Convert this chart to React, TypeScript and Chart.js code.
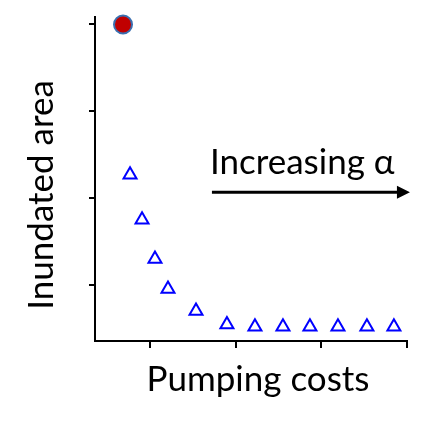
import React, { useEffect, useRef } from "react";
import { Chart, registerables } from "chart.js";

Chart.register(...registerables);

// Data (axis units: tick spacing = 1)
const X_TICKS = [1, 2, 3, 4];
const Y_TICKS = [1, 2, 3, 4];
const BASELINE_X = [0.685];
const BASELINE_Y = [4.0];
const ALPHA_X = [0.767, 0.907, 1.058, 1.21, 1.537, 1.898, 2.225, 2.552, 2.867, 3.194, 3.532, 3.847];
const ALPHA_Y = [2.27, 1.75, 1.3, 0.955, 0.7, 0.545, 0.52, 0.52, 0.52, 0.52, 0.52, 0.52];
const X_TITLE = "Pumping costs";
const Y_TITLE = "Inundated area";
const ARROW_LABEL = "Increasing α";

const FONT = "Lato";

const textPlugin = {
  id: "texts",
  afterDraw(chart: any) {
    const ctx = chart.ctx as CanvasRenderingContext2D;
    const xs = chart.scales.x;
    const ys = chart.scales.y;
    ctx.save();
    ctx.fillStyle = "#000";
    // x title
    ctx.font = `35px ${FONT}`;
    ctx.textAlign = "center";
    ctx.textBaseline = "alphabetic";
    ctx.fillText(X_TITLE, 258, 391);
    // y title
    ctx.save();
    ctx.translate(53, 195);
    ctx.rotate(-Math.PI / 2);
    ctx.fillText(Y_TITLE, 0, 0);
    ctx.restore();
    // arrow label
    const ax0 = xs.getPixelForValue(1.723);
    const ax1 = xs.getPixelForValue(4.034);
    const ay = ys.getPixelForValue(2.068);
    ctx.font = `35px ${FONT}`;
    ctx.textAlign = "left";
    ctx.fillText(ARROW_LABEL, ax0 - 2, ys.getPixelForValue(2.275));
    // arrow
    ctx.strokeStyle = "#000";
    ctx.lineWidth = 3;
    ctx.beginPath();
    ctx.moveTo(ax0, ay);
    ctx.lineTo(ax1 - 10, ay);
    ctx.stroke();
    ctx.beginPath();
    ctx.moveTo(ax1, ay);
    ctx.lineTo(ax1 - 13, ay - 6.5);
    ctx.lineTo(ax1 - 13, ay + 6.5);
    ctx.closePath();
    ctx.fill();
    ctx.restore();
  },
};

export default function App() {
  const ref = useRef<HTMLCanvasElement>(null);
  useEffect(() => {
    const chart = new Chart(ref.current!, {
      type: "scatter",
      data: {
        datasets: [
          {
            data: BASELINE_X.map((x, i) => ({ x, y: BASELINE_Y[i] })),
            pointStyle: "circle",
            pointRadius: 9,
            pointBackgroundColor: "#c00000",
            pointBorderColor: "#3a6fb0",
            pointBorderWidth: 2,
            clip: false,
          } as any,
          {
            data: ALPHA_X.map((x, i) => ({ x, y: ALPHA_Y[i] })),
            pointStyle: "triangle",
            pointRadius: 7.5,
            pointBackgroundColor: "rgba(255,255,255,0)",
            pointBorderColor: "#0000ff",
            pointBorderWidth: 2,
            clip: false,
          } as any,
        ],
      },
      options: {
        animation: false,
        responsive: false,
        events: [],
        layout: { padding: { top: 17, right: 16, left: 0, bottom: 0 } },
        plugins: { legend: { display: false }, tooltip: { enabled: false } },
        scales: {
          x: {
            type: "linear",
            min: 0.358,
            max: 4,
            afterBuildTicks: (s: any) => {
              s.ticks = X_TICKS.map((v) => ({ value: v }));
            },
            afterFit: (s: any) => {
              s.height = 84;
            },
            ticks: { display: false },
            grid: { drawOnChartArea: false, drawTicks: true, tickLength: 7, color: "#000", lineWidth: 2 },
            border: { display: true, color: "#000", width: 2 },
          },
          y: {
            type: "linear",
            min: 0.355,
            max: 4.086,
            afterBuildTicks: (s: any) => {
              s.ticks = Y_TICKS.map((v) => ({ value: v }));
            },
            afterFit: (s: any) => {
              s.width = 95;
            },
            ticks: { display: false },
            grid: { drawOnChartArea: false, drawTicks: true, tickLength: 6, color: "#000", lineWidth: 2 },
            border: { display: true, color: "#000", width: 2 },
          },
        },
      },
      plugins: [textPlugin],
    });
    return () => chart.destroy();
  }, []);
  return (
    <div style={{ position: "fixed", left: 0, top: 0, width: 423, height: 425, background: "#fff" }}>
      <canvas ref={ref} width={423} height={425} style={{ display: "block" }} />
    </div>
  );
}
